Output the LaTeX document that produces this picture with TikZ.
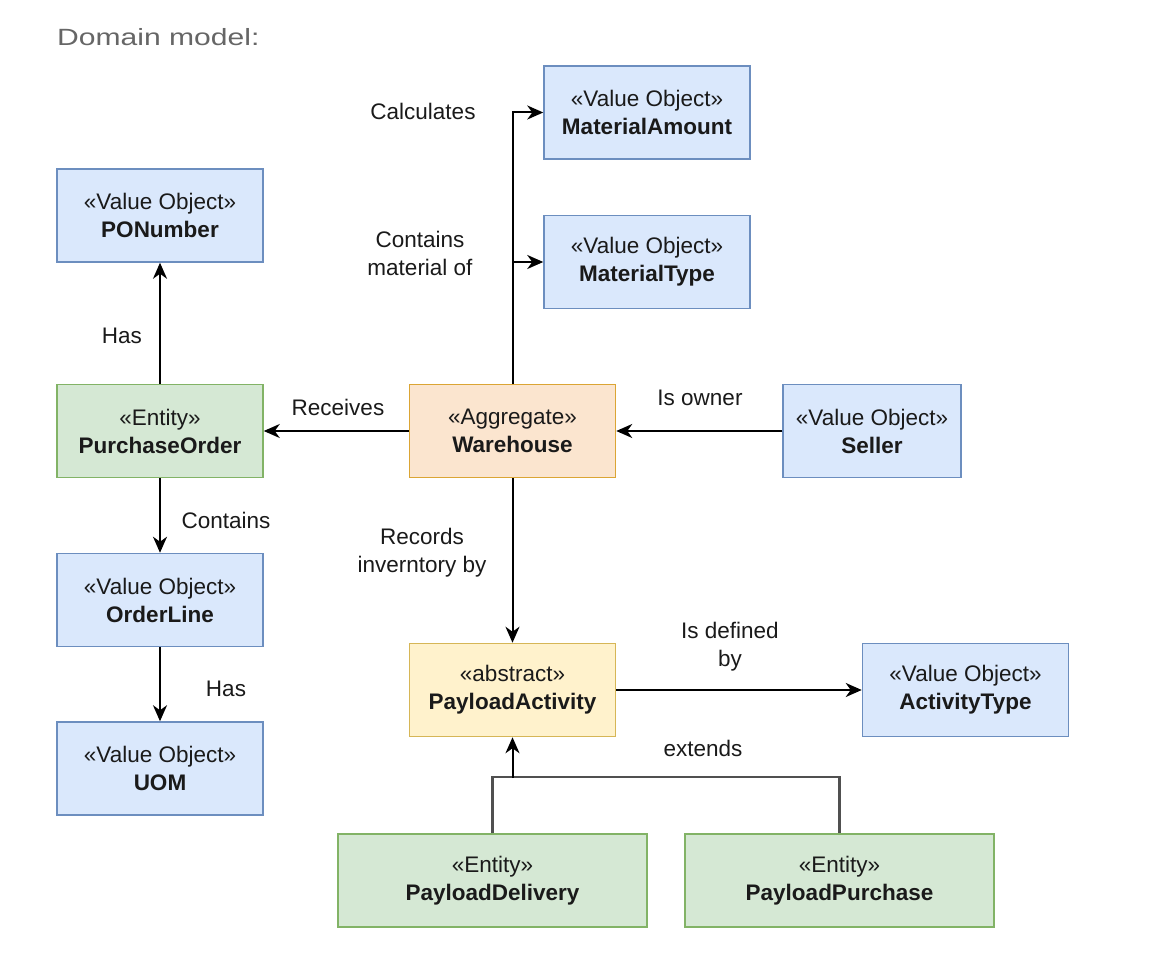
\documentclass[tikz,border=0pt]{standalone}
\usepackage{fontspec}
\setmainfont{Liberation Sans}
\newfontfamily\titlefont[FakeStretch=1.28]{Liberation Sans}
\usetikzlibrary{arrows.meta}
\definecolor{vofill}{HTML}{DAE8FC}
\definecolor{vodraw}{HTML}{6C8EBF}
\definecolor{enfill}{HTML}{D5E8D4}
\definecolor{endraw}{HTML}{82B366}
\definecolor{agfill}{HTML}{FBE5CF}
\definecolor{agdraw}{HTML}{DBA534}
\definecolor{abfill}{HTML}{FFF2CC}
\definecolor{abdraw}{HTML}{D6B656}
\definecolor{txt}{HTML}{1A1A1A}
\definecolor{titlegray}{HTML}{666666}
\definecolor{extgray}{HTML}{505050}
\tikzset{
  box/.style={rectangle, line width=1.5pt, minimum width=206pt, minimum height=93pt,
    inner sep=0pt, align=center, text=txt, font=\fontsize{22.5}{28}\selectfont},
  vo/.style={box, fill=vofill, draw=vodraw},
  en/.style={box, fill=enfill, draw=endraw},
  ag/.style={box, fill=agfill, draw=agdraw},
  ab/.style={box, fill=abfill, draw=abdraw},
  lbl/.style={align=center, text=txt, inner sep=0pt, font=\fontsize{22.5}{28}\selectfont},
  arr/.style={line width=2pt, -{Stealth[length=16pt,width=14pt,inset=5pt]}},
  ext/.style={line width=2.2pt, draw=extgray},
}
\begin{document}
\begin{tikzpicture}[x=1pt,y=-1pt]
\useasboundingbox[fill=white] (0,0) rectangle (1152,968);
\node[anchor=west, text=titlegray, inner sep=0pt, font=\titlefont\fontsize{23.5}{28}\selectfont] (title) at (57,37) {Domain model:};

\node[vo] (ma) at (647,112.5) {«Value Object»\\\textbf{MaterialAmount}};
\node[vo] (mt) at (647,262) {«Value Object»\\\textbf{MaterialType}};
\node[vo] (pon) at (160,215.5) {«Value Object»\\\textbf{PONumber}};
\node[en] (po) at (160,431) {«Entity»\\\textbf{PurchaseOrder}};
\node[ag] (wh) at (512.5,431) {«Aggregate»\\\textbf{Warehouse}};
\node[vo, minimum width=178pt] (sel) at (872,431) {«Value Object»\\\textbf{Seller}};
\node[vo] (ol) at (160,600) {«Value Object»\\\textbf{OrderLine}};
\node[vo] (uom) at (160,768.5) {«Value Object»\\\textbf{UOM}};
\node[ab] (pa) at (512.5,690) {«abstract»\\\textbf{PayloadActivity}};
\node[vo] (at) at (965.5,690) {«Value Object»\\\textbf{ActivityType}};
\node[en, minimum width=309pt] (pd) at (492.5,880.5) {«Entity»\\\textbf{PayloadDelivery}};
\node[en, minimum width=309pt] (pp) at (839.5,880.5) {«Entity»\\\textbf{PayloadPurchase}};

\draw[arr] (wh.north) |- (ma.west);
\draw[arr] (wh.north) |- (mt.west);
\draw[arr] (po.north) -- (pon.south);
\draw[arr] (wh.west) -- (po.east);
\draw[arr] (sel.west) -- (wh.east);
\draw[arr] (po.south) -- (ol.north);
\draw[arr] (ol.south) -- (uom.north);
\draw[arr] (wh.south) -- (pa.north);
\draw[arr] (pa.east) -- (at.west);
\coordinate (j) at (512.5,778);
\draw[ext] (pd.north) -- ++(0,-56) -| (pp.north);
\draw[arr] (j) -- (pa.south);

\node[lbl] (l1) at (423,111) {Calculates};
\node[lbl] (l2) at (420,253) {Contains\\material of};
\node[lbl] (l3) at (122,336) {Has};
\node[lbl] (l4) at (338,407) {Receives};
\node[lbl] (l5) at (700,398) {Is owner};
\node[lbl] (l6) at (226,520) {Contains};
\node[lbl] (l7) at (226,689) {Has};
\node[lbl] (l8) at (422,553) {Records\\inverntory by};
\node[lbl] (l9) at (730,647) {Is defined\\by};
\node[lbl] (l10) at (703,748) {extends};
\end{tikzpicture}
\end{document}
